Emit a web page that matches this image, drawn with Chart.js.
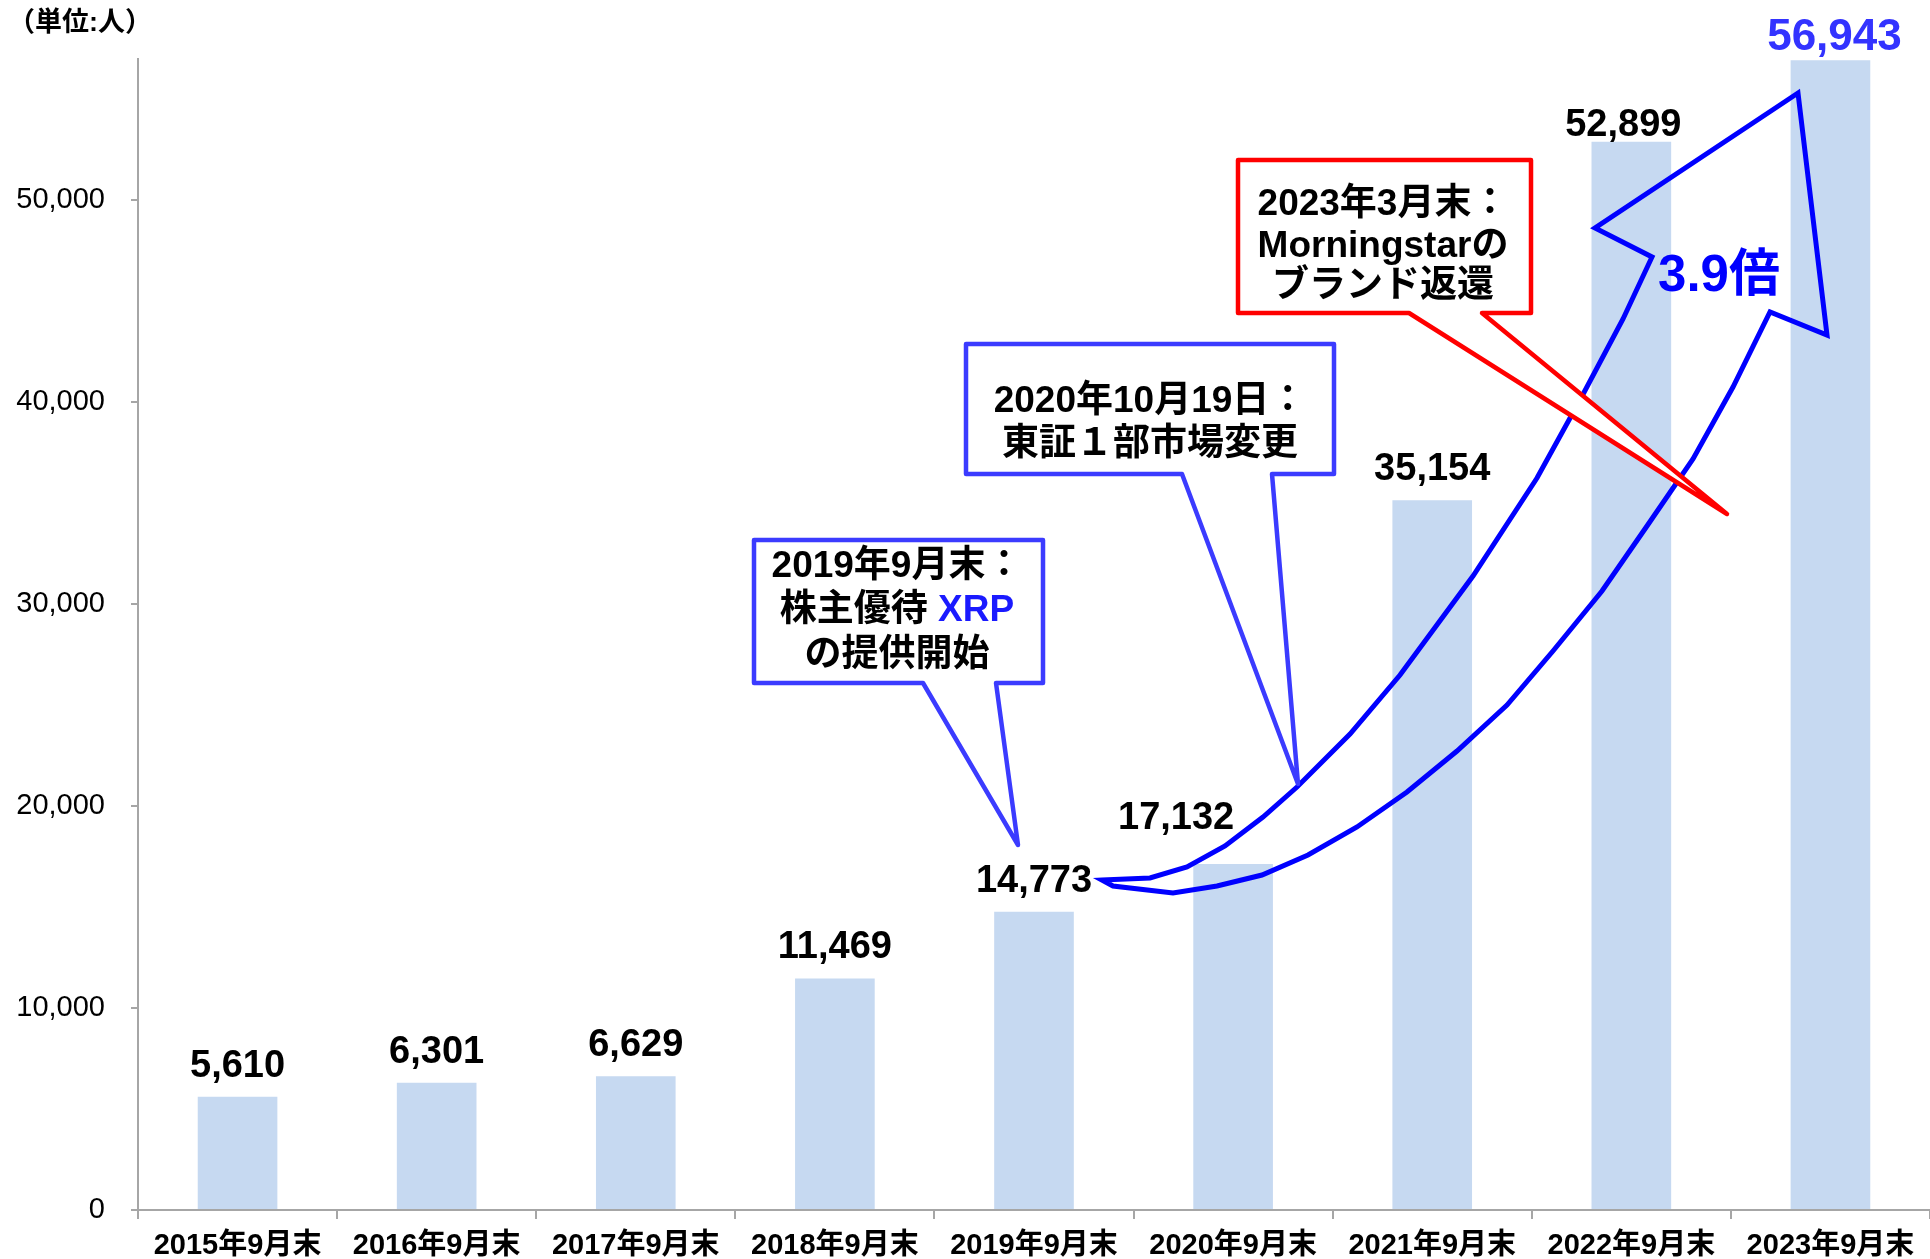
<!DOCTYPE html>
<html lang="ja">
<head>
<meta charset="utf-8">
<script src="https://cdn.jsdelivr.net/npm/chart.js@4"></script>
<style>
  html, body { margin: 0; padding: 0; background: #fff; }
  #wrap { width: 1930px; height: 1259px; }
</style>
</head>
<body>
<div id="wrap"><canvas id="chart" width="1930" height="1259"></canvas></div>
<script>
const categories = ["2015年9月末", "2016年9月末", "2017年9月末", "2018年9月末", "2019年9月末",
  "2020年9月末", "2021年9月末", "2022年9月末", "2023年9月末"];
const holders = [5610, 6301, 6629, 11469, 14773, 17132, 35154, 52899, 56943];
const yTicks = [0, 10000, 20000, 30000, 40000, 50000];
const yMax = 57000;

const FONT = '"Liberation Sans", "Noto Sans CJK JP", sans-serif';
const AXIS_GRAY = "#a6a6a6";
const BAR_BLUE = "#c6d9f1";
const BOX_BLUE = "#3b3bff";
const ARROW_BLUE = "#0000ff";

// some value labels sit off-centre in the original slide
const labelShift = { 5: [-57, -15], 7: [-8, 14], 8: [4, 10] };

// big growth arrow (outline only)
const arrowUpper = [[1102, 880], [1150, 878], [1187, 867], [1225, 846], [1263, 817], [1297, 787],
  [1350, 734], [1400, 675], [1473, 576], [1537, 478], [1580, 400], [1623, 319], [1652, 257]];
const arrowHead = [[1595, 228], [1798, 93], [1827, 335], [1770, 312]];
const arrowLower = [[1733, 387], [1693, 459], [1647, 526], [1602, 591], [1553, 651], [1507, 705],
  [1457, 751], [1407, 792], [1357, 827], [1308, 855], [1262, 875], [1217, 886], [1173, 893], [1113, 886]];

function callout(ctx, box, tail, color) {
  const [x1, y1, x2, y2] = box;
  const [lx, tx, ty, rx] = tail;
  ctx.beginPath();
  ctx.moveTo(x1, y1);
  ctx.lineTo(x2, y1);
  ctx.lineTo(x2, y2);
  ctx.lineTo(rx, y2);
  ctx.lineTo(tx, ty);
  ctx.lineTo(lx, y2);
  ctx.lineTo(x1, y2);
  ctx.closePath();
  ctx.fillStyle = "#fff";
  ctx.fill();
  ctx.strokeStyle = color;
  ctx.lineWidth = 4.5;
  ctx.lineJoin = "round";
  ctx.stroke();
}

function textLines(ctx, cx, lines) {
  ctx.font = "bold 37px " + FONT;
  ctx.textBaseline = "middle";
  ctx.textAlign = "left";
  lines.forEach(([y, parts]) => {
    // parts: [[text, color], ...] centred as a whole
    const total = parts.reduce((w, p) => w + ctx.measureText(p[0]).width, 0);
    let x = cx - total / 2;
    parts.forEach(([t, c]) => {
      ctx.fillStyle = c;
      ctx.fillText(t, x, y);
      x += ctx.measureText(t).width;
    });
  });
}

const annotations = {
  id: "annotations",
  afterDatasetsDraw(chart) {
    const ctx = chart.ctx;
    ctx.save();

    // arrow
    ctx.beginPath();
    ctx.moveTo(...arrowUpper[0]);
    arrowUpper.slice(1).concat(arrowHead, arrowLower).forEach(p => ctx.lineTo(...p));
    ctx.closePath();
    ctx.strokeStyle = ARROW_BLUE;
    ctx.lineWidth = 5;
    ctx.lineJoin = "miter";
    ctx.stroke();

    // callouts
    callout(ctx, [754, 540, 1043, 683], [923, 1018, 845, 996], BOX_BLUE);
    callout(ctx, [966, 344, 1334, 474], [1182, 1298, 784, 1272], BOX_BLUE);
    callout(ctx, [1238, 160, 1531, 313], [1409, 1727, 514, 1482], "#ff0000");

    textLines(ctx, 897, [
      [567, [["2019年9月末：", "#000"]]],
      [611, [["株主優待 ", "#000"], ["XRP", "#1a1aff"]]],
      [656, [["の提供開始", "#000"]]]
    ]);
    textLines(ctx, 1150, [
      [402, [["2020年10月19日：", "#000"]]],
      [445, [["東証１部市場変更", "#000"]]]
    ]);
    textLines(ctx, 1383, [
      [205, [["2023年3月末：", "#000"]]],
      [247, [["Morningstarの", "#000"]]],
      [287, [["ブランド返還", "#000"]]]
    ]);

    // multiplier
    ctx.font = "bold 51px " + FONT;
    ctx.fillStyle = ARROW_BLUE;
    ctx.textAlign = "center";
    ctx.textBaseline = "middle";
    ctx.fillText("3.9倍", 1719, 277);

    // value labels
    const bars = chart.getDatasetMeta(0).data;
    ctx.textAlign = "center";
    ctx.textBaseline = "alphabetic";
    bars.forEach((bar, i) => {
      const [dx, dy] = labelShift[i] || [0, 0];
      const last = i === bars.length - 1;
      ctx.font = (last ? "bold 44px " : "bold 38px ") + FONT;
      ctx.fillStyle = last ? "#3333ff" : "#000";
      ctx.fillText(holders[i].toLocaleString("en-US"), bar.x + dx, bar.y - 20 + dy);
    });

    // unit
    ctx.font = "bold 27px " + FONT;
    ctx.fillStyle = "#000";
    ctx.textAlign = "left";
    ctx.textBaseline = "middle";
    ctx.fillText("（単位:人）", 8, 24);

    ctx.restore();
  }
};

new Chart(document.getElementById("chart"), {
  type: "bar",
  data: {
    labels: categories,
    datasets: [{
      data: holders,
      backgroundColor: BAR_BLUE,
      borderWidth: 0,
      categoryPercentage: 1,
      barPercentage: 0.4
    }]
  },
  options: {
    responsive: false,
    animation: false,
    devicePixelRatio: 1,
    layout: { padding: { top: 59, right: 0, left: 0, bottom: 0 } },
    plugins: {
      legend: { display: false },
      tooltip: { enabled: false }
    },
    scales: {
      x: {
        grid: { offset: true, drawOnChartArea: false, tickLength: 9, color: AXIS_GRAY, lineWidth: 2 },
        border: { color: AXIS_GRAY, width: 2 },
        ticks: { color: "#000", padding: 10, maxRotation: 0, font: { family: FONT, size: 29, weight: "bold" } },
        afterFit(s) { s.height = 49; }
      },
      y: {
        min: 0,
        max: yMax,
        grid: { drawOnChartArea: false, tickLength: 7, color: AXIS_GRAY, lineWidth: 2 },
        border: { color: AXIS_GRAY, width: 2 },
        ticks: {
          color: "#000",
          padding: 26,
          font: { family: FONT, size: 29 },
          callback: v => v.toLocaleString("en-US")
        },
        afterBuildTicks(s) { s.ticks = yTicks.map(v => ({ value: v })); },
        afterFit(s) { s.width = 138; }
      }
    }
  },
  plugins: [annotations]
});
</script>
</body>
</html>
